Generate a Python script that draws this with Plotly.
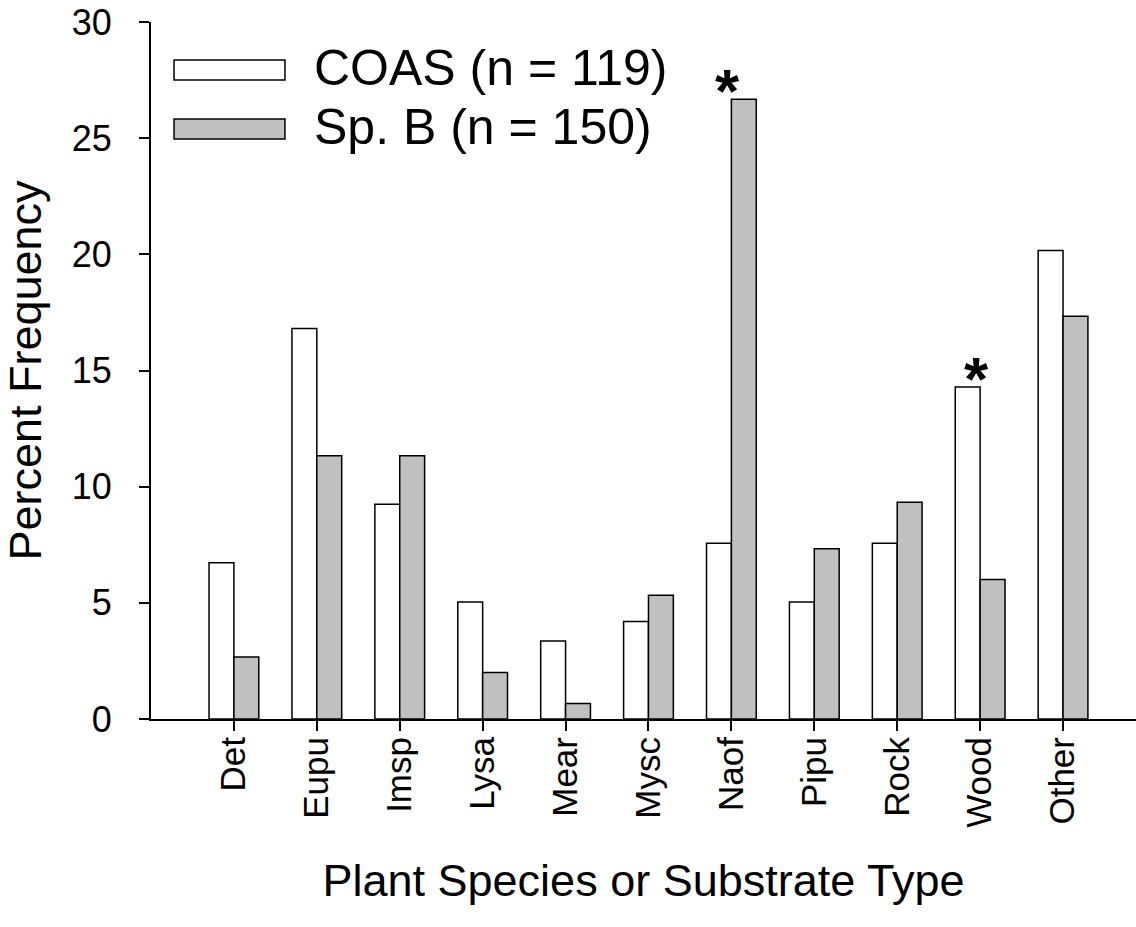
import plotly.graph_objects as go

categories = ["Det", "Eupu", "Imsp", "Lysa", "Mear", "Mysc", "Naof", "Pipu", "Rock", "Wood", "Other"]
coas = [6.72, 16.81, 9.24, 5.04, 3.36, 4.20, 7.56, 5.04, 7.56, 14.29, 20.17]
spb = [2.67, 11.33, 11.33, 2.00, 0.67, 5.33, 26.67, 7.33, 9.33, 6.00, 17.33]
significant = ["Naof", "Wood"]
series_names = ["COAS (n = 119)", "Sp. B (n = 150)"]
y_ticks = [0, 5, 10, 15, 20, 25, 30]

FONT = "Liberation Sans, Arial, sans-serif"

fig = go.Figure()
fig.add_trace(go.Bar(x=categories, y=coas, name=series_names[0],
                     marker=dict(color="white", line=dict(color="black", width=1.5))))
fig.add_trace(go.Bar(x=categories, y=spb, name=series_names[1],
                     marker=dict(color="#c0c0c0", line=dict(color="black", width=1.5))))

# significance asterisks
for cat in significant:
    i = categories.index(cat)
    top = max(coas[i], spb[i])
    fig.add_annotation(x=cat, y=top, xref="x", yref="y", text="<b>*</b>", showarrow=False,
                       yanchor="bottom", yshift=-28, xshift=-4,
                       font=dict(family=FONT, size=62, color="black"))

# custom legend (wide rectangles)
legend_items = [(series_names[0], "white", 0.9455, 0.9168),
                (series_names[1], "#c0c0c0", 0.8608, 0.8321)]
for name, col, y1, y0 in legend_items:
    fig.add_shape(type="rect", xref="paper", yref="paper", x0=0.0234, x1=0.136, y0=y0, y1=y1,
                  fillcolor=col, line=dict(color="black", width=1.5))
    fig.add_annotation(xref="paper", yref="paper", x=0.1635, y=(y0 + y1) / 2 + 0.003, text=name,
                       showarrow=False, xanchor="left", yanchor="middle",
                       font=dict(family=FONT, size=50, color="black"))

fig.update_layout(
    width=1136, height=927,
    margin=dict(l=151, r=0, t=22, b=208),
    plot_bgcolor="white", paper_bgcolor="white",
    barmode="group", bargap=0.4, bargroupgap=0,
    showlegend=False,
    font=dict(family=FONT, color="black"),
)
fig.update_xaxes(
    type="category", range=[-1, 10.88],
    showline=True, linecolor="black", linewidth=2,
    ticks="outside", ticklen=10, tickwidth=2, tickcolor="black",
    tickangle=-90, tickfont=dict(family=FONT, size=35), ticklabelstandoff=-8,
    showgrid=False, zeroline=False,
    title=dict(text="Plant Species or Substrate Type", font=dict(family=FONT, size=45), standoff=38),
)
fig.update_yaxes(
    range=[0, 30], tickvals=y_ticks,
    showline=True, linecolor="black", linewidth=2,
    ticks="outside", ticklen=10, tickwidth=2, tickcolor="black",
    tickfont=dict(family=FONT, size=36), ticklabelstandoff=20,
    showgrid=False, zeroline=False,
    title=dict(text="Percent Frequency", font=dict(family=FONT, size=45), standoff=22),
)

fig.write_html("out.html")
